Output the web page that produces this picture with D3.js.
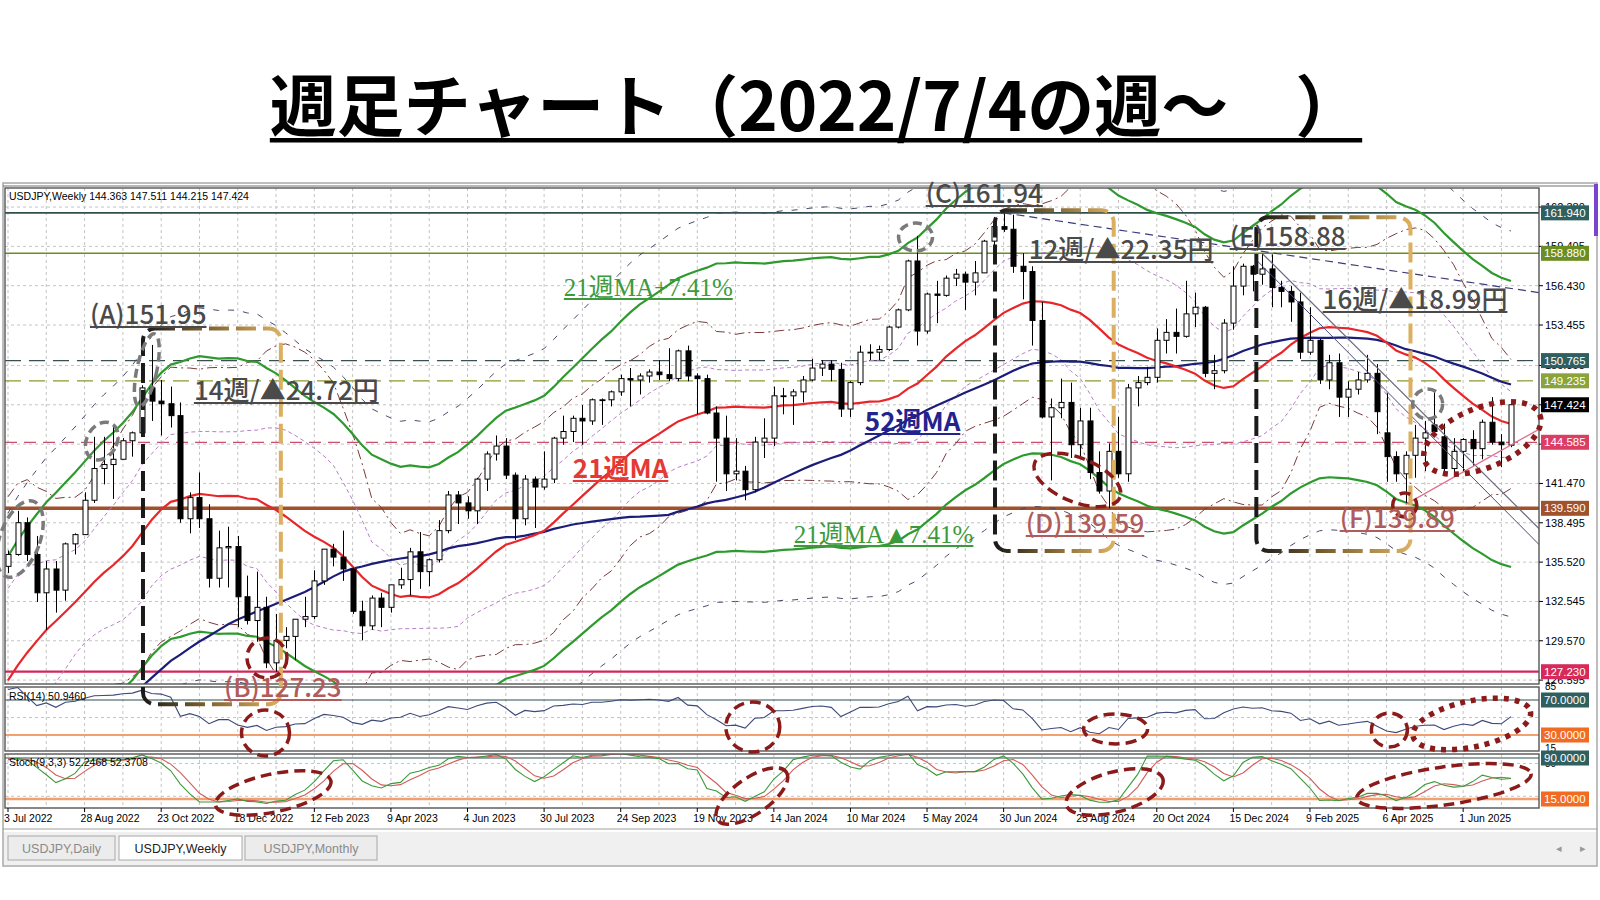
<!DOCTYPE html>
<html><head><meta charset="utf-8">
<script src="https://cdn.jsdelivr.net/npm/d3@7"></script>
<style>html,body{margin:0;padding:0;background:#fff;}svg{display:block;}</style>
</head><body>
<svg id="c" width="1600" height="900"></svg>
<script>
// ---------------- DATA ----------------
// weekly closes of the 52 weeks before the chart (Jul 2021 - Jun 2022), used by the indicators
const preClose=[110.1,110.1,110.5,109.7,110.2,109.6,109.8,109.8,109.7,109.9,109.9,110.7,111.0,112.2,114.2,113.5,114.0,113.4,114.1,114.0,113.4,112.8,113.4,113.7,114.4,115.1,115.6,114.2,113.7,115.2,115.2,115.4,115.0,115.6,114.8,117.3,119.2,122.0,122.5,124.3,126.4,128.5,130.8,130.6,129.2,127.9,127.1,130.9,134.4,135.0,135.2,135.2];
// highs / lows of the last 17 of those weeks (Mar - Jun 2022)
const preHigh=[117.4,119.4,122.4,125.1,124.5,126.7,129.4,131.3,131.3,131.3,129.8,128.0,130.9,134.6,135.6,136.7,137.0];
const preLow=[114.8,117.0,118.7,121.0,122.1,124.0,125.9,126.9,128.6,127.5,126.4,126.4,127.2,130.6,131.5,134.3,134.8];

const open=[135.2,136.1,138.5,136.1,133.2,135.0,133.4,136.9,137.6,140.2,142.6,142.9,143.3,144.7,145.3,148.7,147.7,147.5,146.6,138.8,140.4,138.8,134.3,136.6,136.7,132.9,131.1,132.1,127.9,129.6,
129.9,131.2,131.4,134.1,136.5,135.9,135.0,131.8,130.7,132.8,132.1,133.8,134.2,136.3,134.8,135.7,137.9,140.6,140.0,139.4,
141.8,143.7,144.3,142.1,138.8,141.8,141.2,141.8,144.9,145.4,146.4,146.2,147.8,147.8,148.4,149.4,149.3,149.6,149.9,149.7,
149.4,151.5,149.6,149.4,146.8,144.9,142.2,142.4,141.0,144.6,144.9,148.1,148.1,148.4,149.3,150.2,150.5,150.1,147.1,149.1,
151.4,151.4,151.6,153.3,154.6,158.3,153.0,155.8,155.7,157.0,157.3,156.7,157.4,159.8,160.9,160.7,157.9,157.5,153.8,146.5,
147.2,147.6,144.4,146.2,142.3,140.9,143.9,142.2,148.7,149.1,149.5,152.3,152.9,152.6,154.3,154.8,149.8,150.0,153.6,156.4,
157.9,157.3,157.7,156.3,156.0,155.2,151.4,152.3,149.3,150.6,148.0,148.6,149.3,149.8,145.3,143.5,142.2,143.6,144.9,145.9,
145.0,142.6,143.9,144.8,144.1,146.1,144.6,144.363];
const high=[136.4,139.4,138.9,137.5,135.6,135.6,137.0,137.7,140.8,145.0,145.0,145.9,144.9,145.4,148.9,151.95,149.3,148.8,147.6,140.8,142.3,139.9,137.9,138.2,137.5,134.5,134.8,132.9,131.6,130.6,
131.2,132.9,134.9,136.5,136.9,137.9,135.1,132.6,133.0,133.2,133.8,135.1,136.6,137.8,135.8,138.7,140.9,140.9,140.5,141.9,
143.9,145.1,144.9,142.3,142.1,142.0,143.9,145.0,146.6,146.6,147.4,147.9,147.9,148.5,149.7,150.2,149.8,150.1,150.8,151.7,
151.6,151.9,149.8,149.7,147.3,146.6,144.9,142.8,145.0,146.4,148.8,148.7,148.6,149.6,150.9,150.8,150.8,150.6,149.2,151.9,
152.0,151.9,153.4,154.7,158.4,160.2,155.9,156.8,157.2,157.7,157.5,158.3,159.9,160.9,161.94,161.8,158.9,157.9,155.2,147.9,
149.4,149.1,147.2,147.2,143.9,144.5,146.5,149.0,149.6,150.3,153.2,153.9,154.7,156.8,155.9,154.9,151.2,153.9,157.9,158.1,
158.0,158.88,158.8,156.8,156.4,155.9,154.8,152.4,151.2,151.3,149.2,149.9,151.2,150.5,148.3,143.9,143.9,145.9,146.2,148.6,
146.0,144.9,144.9,145.5,146.3,148.0,145.2,147.511];
const low=[134.7,136.0,135.6,132.5,130.4,131.7,132.6,136.1,137.6,140.0,141.4,140.3,143.3,143.5,145.3,146.2,145.1,145.7,138.5,137.7,138.1,133.6,133.6,133.6,130.6,130.8,129.5,127.5,127.23,129.0,
128.1,130.6,131.2,133.8,135.2,134.1,131.6,129.6,130.4,130.6,131.7,133.5,133.0,133.5,133.7,135.5,137.7,138.4,138.8,138.4,
140.9,143.2,141.8,137.2,138.3,138.1,141.0,141.5,144.4,144.6,144.4,145.9,145.9,147.3,148.1,147.3,148.2,149.1,149.3,149.2,
149.2,149.2,146.7,146.7,141.6,140.9,141.7,140.2,140.8,143.4,144.3,146.7,145.9,147.6,149.2,149.6,149.2,146.5,146.5,148.9,
150.8,150.8,151.5,153.2,154.5,151.9,152.8,153.6,155.6,156.4,154.6,155.7,157.4,159.2,160.5,157.4,155.4,151.9,146.4,141.7,
146.4,143.4,143.4,141.8,140.7,139.59,141.9,141.6,147.3,148.9,149.1,151.3,151.3,152.5,153.3,149.5,148.6,149.8,153.1,155.7,
156.0,156.5,154.8,154.8,153.7,150.9,151.2,149.0,148.6,146.5,146.5,148.2,149.1,145.2,141.6,141.6,139.89,141.9,142.4,145.0,
142.4,142.1,142.4,142.8,143.3,144.4,142.7,144.215];
const close=[136.1,138.5,136.1,133.2,135.0,133.4,136.9,137.6,140.2,142.6,142.9,143.3,144.7,145.3,148.7,147.7,147.5,146.6,138.8,140.4,138.8,134.3,136.6,136.7,132.9,131.1,132.1,127.9,129.6,129.9,
131.2,131.4,134.1,136.5,135.9,135.0,131.8,130.7,132.8,132.1,133.8,134.2,136.3,134.8,135.7,137.9,140.6,140.0,139.4,141.8,
143.7,144.3,142.1,138.8,141.8,141.2,141.8,144.9,145.4,146.4,146.2,147.8,147.8,148.4,149.4,149.3,149.6,149.9,149.7,149.4,
151.5,149.6,149.4,146.8,144.9,142.2,142.4,141.0,144.6,144.9,148.1,148.1,148.4,149.3,150.2,150.5,150.1,147.1,149.1,151.4,
151.4,151.6,153.3,154.6,158.3,153.0,155.8,155.7,157.0,157.3,156.7,157.4,159.8,160.9,160.7,157.9,157.5,153.8,146.5,147.2,
147.6,144.4,146.2,142.3,140.9,143.9,142.2,148.7,149.1,149.5,152.3,152.9,152.6,154.3,154.8,149.8,150.0,153.6,156.4,157.9,
157.3,157.7,156.3,156.0,155.2,151.4,152.3,149.3,150.6,148.0,148.6,149.3,149.8,146.9,143.5,142.2,143.6,144.9,145.3,145.4,
142.6,143.9,144.8,144.1,146.1,144.6,144.4,147.424];

const dateLabels=["3 Jul 2022","28 Aug 2022","23 Oct 2022","18 Dec 2022","12 Feb 2023","9 Apr 2023","4 Jun 2023","30 Jul 2023","24 Sep 2023","19 Nov 2023","14 Jan 2024","10 Mar 2024","5 May 2024","30 Jun 2024","25 Aug 2024","20 Oct 2024","15 Dec 2024","9 Feb 2025","6 Apr 2025","1 Jun 2025"];
const dateLabelBars=[0,8,16,24,32,40,48,56,64,72,80,88,96,104,112,120,128,136,144,152];
const priceTicks=[126.595,129.570,132.545,135.520,138.495,141.470,144.445,147.420,150.395,153.455,156.430,159.405,162.380];
const levelValues=[161.94,158.88,150.765,149.235,144.585,139.59,127.23];
const priceTagValues=[161.94,158.88,150.765,149.235,147.424,144.585,139.59,127.23];
const envPct=7.41;
const outerEnvPct=10;

// annotations (anchor in bar index / price)
const annoText=["(A)151.95","14週/▲24.72円","(B)127.23","21週MA+7.41%","21週MA","52週MA","21週MA▲7.41%","(C)161.94","12週/▲22.35円","(D)139.59","(E)158.88","16週/▲18.99円","(F)139.89"];
const annoBar=[8.56,19.42,22.56,58.06,59.0,89.5,82.08,95.86,106.62,106.31,127.61,137.32,139.1];
const annoPrice=[153.53,147.78,125.31,155.65,141.88,145.44,136.97,162.69,158.45,137.72,159.43,154.67,138.1];
const boxBar0=[14.1,103.1,130.4], boxBar1=[28.5,115.5,146.5], boxTop=[153.2,162.14,161.6], boxBottom=[124.77,136.36,136.36];
const grayBar=[14.5,9.8,1.25,94.8,148.3], grayPrice=[150.05,144.68,137.27,160.11,147.48];
const redBar=[27.05,111.7,145.9], redPrice=[128.27,141.73,139.84];
const dotBar=[154.0], dotPrice=[144.91];
const rsiMarkBar=[26.9,77.8,115.7,144.3], rsiMarkVal=[32.3,39.1,36.9,35.7];
const rsiDotBar=[152.9], rsiDotVal=[42.6];
const stMarkBar=[27.7,77.7,115.6,150.0], stMarkVal=[26.0,20.5,27.8,38.8];
const trendFromBar=[104,131,130.5,146], trendFromPrice=[161.94,158.88,158.3,139.89];
const trendToBar=[160,160,160,160], trendToPrice=[155.9,138.0,136.8,145.6];

// ---------------- LAYOUT ----------------
const svg=d3.select('#c');
const L=5,R=1539, mainTop=188, mainBot=684, rsiTop=687, rsiBot=751, stTop=754, stBot=808, axisBot=829;
const N=close.length;
const x=d3.scaleLinear().domain([0,N-1]).range([8,1511]);
const y=d3.scaleLinear().domain([126.595,156.43]).range([680.1,285.7]);
const yR=d3.scaleLinear().domain([30,70]).range([735,700]);
const yS=d3.scaleLinear().domain([15,90]).range([799,758]);
const sansJP='"Noto Sans CJK JP","Noto Sans",sans-serif';
const mt='"Liberation Sans",Arial,sans-serif';

// ---------------- INDICATORS (computed from the data) ----------------
const P=preClose.length, allC=preClose.concat(close);
const ma21=[],sd21=[],ma52=[];
for(let i=0;i<N;i++){
  let w=allC.slice(P+i-20,P+i+1); const m=d3.mean(w); ma21.push(m);
  sd21.push(Math.sqrt(d3.mean(w,v=>(v-m)*(v-m))));
  ma52.push(d3.mean(allC.slice(P+i-51,P+i+1)));
}
const rsi=[];
{ let ag=0,al=0; const n=14; const rAll=[];
  for(let k=1;k<=n;k++){const d=allC[k]-allC[k-1]; if(d>0)ag+=d; else al-=d;}
  ag/=n; al/=n; rAll[n]=100-100/(1+ag/al);
  for(let k=n+1;k<allC.length;k++){const d=allC[k]-allC[k-1]; ag=(ag*(n-1)+Math.max(d,0))/n; al=(al*(n-1)+Math.max(-d,0))/n; rAll[k]=al===0?100:100-100/(1+ag/al);}
  for(let i=0;i<N;i++) rsi.push(rAll[P+i]);
}
const stK=[],stD=[];
{ const Q=preHigh.length, hA=preHigh.concat(high), lA=preLow.concat(low), cA=preClose.slice(-Q).concat(close);
  const num=[],den=[],sk=[];
  for(let j=8;j<hA.length;j++){const hh=d3.max(hA.slice(j-8,j+1)), ll=d3.min(lA.slice(j-8,j+1)); num[j]=cA[j]-ll; den[j]=hh-ll;}
  for(let j=10;j<hA.length;j++){sk[j]=100*(num[j]+num[j-1]+num[j-2])/(den[j]+den[j-1]+den[j-2]);}
  for(let i=0;i<N;i++){const j=Q+i; stK.push(sk[j]); stD.push((sk[j]+sk[j-1]+sk[j-2])/3);}
}

// ---------------- FRAME ----------------
svg.append('rect').attr('x',0).attr('y',0).attr('width',1600).attr('height',900).attr('fill','#fff');
const title=svg.append('text').attr('x',816).attr('y',131).attr('text-anchor','middle')
  .attr('font-family',sansJP).attr('font-weight',700).attr('font-size',67).attr('fill','#000')
  .text('週足チャート（2022/7/4の週～　）');
const tb=title.node().getBBox();
svg.append('rect').attr('x',tb.x).attr('y',138).attr('width',tb.width).attr('height',4.5).attr('fill','#000');

svg.append('rect').attr('x',3).attr('y',183).attr('width',1594).attr('height',683).attr('fill','#fff').attr('stroke','#a8a8a8').attr('stroke-width',1.5);
svg.append('line').attr('x1',3).attr('x2',1597).attr('y1',186).attr('y2',186).attr('stroke','#707070').attr('stroke-width',1);
svg.append('rect').attr('x',1594).attr('y',184).attr('width',4).attr('height',52).attr('fill','#7a44cc');

const defs=svg.append('defs');
[['cm',mainTop,mainBot],['cr',rsiTop,rsiBot],['cs',stTop,stBot]].forEach(([id,t,b])=>{
  defs.append('clipPath').attr('id',id).append('rect').attr('x',L).attr('y',t).attr('width',R-L).attr('height',b-t);
});
const g=defs.append('linearGradient').attr('id','gbox').attr('x1',0).attr('x2',1).attr('y1',0).attr('y2',0);
g.append('stop').attr('offset','0').attr('stop-color','#1a1a1a');
g.append('stop').attr('offset','0.45').attr('stop-color','#7a6030');
g.append('stop').attr('offset','1').attr('stop-color','#dcb060');

// grid
const gm=svg.append('g').attr('clip-path','url(#cm)');
const gr=svg.append('g').attr('clip-path','url(#cr)');
const gs=svg.append('g').attr('clip-path','url(#cs)');
const gridBars=d3.range(0,N,4);
[[gm,mainTop,mainBot],[gr,rsiTop,rsiBot],[gs,stTop,stBot]].forEach(([gg,t,b])=>{
  gg.selectAll(null).data(gridBars).join('line').attr('x1',d=>x(d)).attr('x2',d=>x(d)).attr('y1',t).attr('y2',b)
    .attr('stroke','#c4c4c4').attr('stroke-width',1).attr('stroke-dasharray','3,3');
});
gm.selectAll(null).data(priceTicks).join('line').attr('x1',L).attr('x2',R).attr('y1',d=>y(d)).attr('y2',d=>y(d))
  .attr('stroke','#c4c4c4').attr('stroke-width',1).attr('stroke-dasharray','3,3');
gr.append('line').attr('x1',L).attr('x2',R).attr('y1',yR(50)).attr('y2',yR(50)).attr('stroke','#c4c4c4').attr('stroke-dasharray','3,3');
[80,20].forEach(v=>gs.append('line').attr('x1',L).attr('x2',R).attr('y1',yS(v)).attr('y2',yS(v)).attr('stroke','#c4c4c4').attr('stroke-dasharray','3,3'));

// horizontal levels
const lvStyle={161.94:['#2f4f4f',1.6,null],158.88:['#6b8e23',1.6,null],150.765:['#3a5050',1.2,'16,8'],149.235:['#8a9a30',1.2,'16,8'],144.585:['#c8506e',1.3,'12,7'],139.59:['#a0522d',3.5,null],127.23:['#d02858',2.2,null]};
levelValues.forEach(v=>{const s=lvStyle[v];
  gm.append('line').attr('x1',L).attr('x2',R).attr('y1',y(v)).attr('y2',y(v)).attr('stroke',s[0]).attr('stroke-width',s[1]).attr('stroke-dasharray',s[2]);});

// envelopes & bands
const lineFn=(arr,mult)=>d3.line().x((d,i)=>x(i)).y((d,i)=>y(arr[i]*mult))(arr);
const bandLine=(k)=>d3.line().x((d,i)=>x(i)).y((d,i)=>y(ma21[i]+k*sd21[i]))(ma21);
gm.append('path').attr('d',lineFn(ma21,1+outerEnvPct/100)).attr('fill','none').attr('stroke','#4a4a6a').attr('stroke-width',1).attr('stroke-dasharray','6,9');
gm.append('path').attr('d',lineFn(ma21,1-outerEnvPct/100)).attr('fill','none').attr('stroke','#4a4a6a').attr('stroke-width',1).attr('stroke-dasharray','6,9');
[2,-2].forEach(k=>gm.append('path').attr('d',bandLine(k)).attr('fill','none').attr('stroke','#7a3a3a').attr('stroke-width',1).attr('stroke-dasharray','10,4,2,4'));
[1,-1].forEach(k=>gm.append('path').attr('d',bandLine(k)).attr('fill','none').attr('stroke','#b77fc7').attr('stroke-width',1).attr('stroke-dasharray','4,3'));
gm.append('path').attr('d',lineFn(ma21,1+envPct/100)).attr('fill','none').attr('stroke','#2e9a2e').attr('stroke-width',2.2);
gm.append('path').attr('d',lineFn(ma21,1-envPct/100)).attr('fill','none').attr('stroke','#2e9a2e').attr('stroke-width',2.2);
gm.append('path').attr('d',lineFn(ma52,1)).attr('fill','none').attr('stroke','#1c1c7a').attr('stroke-width',2.2);
gm.append('path').attr('d',lineFn(ma21,1)).attr('fill','none').attr('stroke','#e8262a').attr('stroke-width',2.2);

// candles
const cg=gm.append('g');
d3.range(N).forEach(i=>{
  const xi=Math.round(x(i))+0.5;
  cg.append('line').attr('x1',xi).attr('x2',xi).attr('y1',y(high[i])).attr('y2',y(low[i])).attr('stroke','#000').attr('stroke-width',1);
  const top=y(Math.max(open[i],close[i])), bot=y(Math.min(open[i],close[i]));
  cg.append('rect').attr('x',xi-2.5).attr('y',top).attr('width',5).attr('height',Math.max(0.8,bot-top))
    .attr('fill',close[i]>=open[i]?'#fff':'#000').attr('stroke','#000').attr('stroke-width',1);
});

// trendlines
const tg=svg.append('g').attr('clip-path','url(#cm)');
const tStyle=[['#3c3c78',1.2,'8,5'],['#6a6a80',1.2,null],['#4a4a7a',1,null],['#e0708e',1.3,null]];
trendFromBar.forEach((b,i)=>tg.append('line').attr('x1',x(b)).attr('y1',y(trendFromPrice[i])).attr('x2',x(trendToBar[i])).attr('y2',y(trendToPrice[i]))
  .attr('stroke',tStyle[i][0]).attr('stroke-width',tStyle[i][1]).attr('stroke-dasharray',tStyle[i][2]));

// RSI
gr.append('line').attr('x1',L).attr('x2',R).attr('y1',yR(70)).attr('y2',yR(70)).attr('stroke','#2f4f4f').attr('stroke-width',1.2);
gr.append('line').attr('x1',L).attr('x2',R).attr('y1',yR(30)).attr('y2',yR(30)).attr('stroke','#f2a070').attr('stroke-width',2);
gr.append('path').attr('d',d3.line().x((d,i)=>x(i)).y(d=>yR(d))(rsi)).attr('fill','none').attr('stroke','#3d4a7a').attr('stroke-width',1.1);
// Stoch
gs.append('line').attr('x1',L).attr('x2',R).attr('y1',yS(90)).attr('y2',yS(90)).attr('stroke','#2f4f4f').attr('stroke-width',1.2);
gs.append('line').attr('x1',L).attr('x2',R).attr('y1',yS(15)).attr('y2',yS(15)).attr('stroke','#f2a070').attr('stroke-width',2.5);
gs.append('path').attr('d',d3.line().x((d,i)=>x(i)).y(d=>yS(d))(stD)).attr('fill','none').attr('stroke','#d45a5a').attr('stroke-width',1.1);
gs.append('path').attr('d',d3.line().x((d,i)=>x(i)).y(d=>yS(d))(stK)).attr('fill','none').attr('stroke','#3a9a3a').attr('stroke-width',1.1);

// panel borders
[[mainTop,mainBot],[rsiTop,rsiBot],[stTop,stBot]].forEach(([t,b])=>{
  svg.append('rect').attr('x',L).attr('y',t).attr('width',R-L).attr('height',b-t).attr('fill','none').attr('stroke','#555').attr('stroke-width',1.4);
});
svg.append('line').attr('x1',3).attr('x2',1597).attr('y1',axisBot).attr('y2',axisBot).attr('stroke','#a0a0a0');

// panel titles
svg.append('text').attr('x',9).attr('y',200).attr('font-family',mt).attr('font-size',10.5).attr('fill','#000').text('USDJPY,Weekly  144.363 147.511 144.215 147.424');
svg.append('text').attr('x',9).attr('y',700).attr('font-family',mt).attr('font-size',10.5).attr('fill','#000').text('RSI(14) 50.9460');
svg.append('text').attr('x',9).attr('y',766).attr('font-family',mt).attr('font-size',10.5).attr('fill','#000').text('Stoch(9,3,3) 52.2468 52.3708');

// price axis
const ax=svg.append('g');
priceTicks.forEach(v=>{
  ax.append('line').attr('x1',R).attr('x2',R+4).attr('y1',y(v)).attr('y2',y(v)).attr('stroke','#000');
  const hidden=priceTagValues.some(t=>Math.abs(y(t)-y(v))<3);
  if(!hidden) ax.append('text').attr('x',R+6).attr('y',y(v)).attr('dy','0.36em').attr('font-family',mt).attr('font-size',11).attr('fill','#000').text(d3.format('.3f')(v));
});
[[85,yR],[15,yR],[80,yS]].forEach(([v,s])=>ax.append('text').attr('x',R+6).attr('y',s(v)).attr('dy','0.36em').attr('font-family',mt).attr('font-size',10).attr('fill','#000').text(v));
const tagColor={161.94:'#2f5f5f',158.88:'#6b8e23',150.765:'#2f5f5f',149.235:'#8aa43a',147.424:'#000',144.585:'#dc3d62',139.59:'#a0522d',127.23:'#d82a5a'};
function tag(yy,col,txt){
  ax.append('rect').attr('x',R+2).attr('y',yy-7.5).attr('width',48).attr('height',15).attr('fill',col);
  ax.append('text').attr('x',R+5).attr('y',yy).attr('dy','0.36em').attr('font-family',mt).attr('font-size',11.5).attr('fill','#fff').text(txt);
}
priceTagValues.forEach(v=>tag(y(v),tagColor[v],d3.format('.3f')(v)));
tag(yR(70),'#2f5f5f','70.0000'); tag(yR(30),'#f26b22','30.0000');
tag(yS(90),'#2f5f5f','90.0000'); tag(yS(15),'#f26b22','15.0000');

// time axis
dateLabelBars.forEach((b,i)=>{
  svg.append('line').attr('x1',x(b)).attr('x2',x(b)).attr('y1',stBot).attr('y2',stBot+4).attr('stroke','#000');
  svg.append('text').attr('x',x(b)-4).attr('y',822).attr('font-family',mt).attr('font-size',10.5).attr('fill','#000').text(dateLabels[i]);
});

// tabs
svg.append('rect').attr('x',4).attr('y',832).attr('width',1592).attr('height',33).attr('fill','#f0f0f0');
[['USDJPY,Daily',8,115,false],['USDJPY,Weekly',119,242,true],['USDJPY,Monthly',245,377,false]].forEach(([t,a,b,act])=>{
  svg.append('rect').attr('x',a).attr('y',836).attr('width',b-a).attr('height',24).attr('fill',act?'#fff':'#ececec').attr('stroke','#a8a8a8');
  svg.append('text').attr('x',(a+b)/2).attr('y',853).attr('text-anchor','middle').attr('font-family',mt).attr('font-size',12.5).attr('fill',act?'#222':'#8a8a8a').text(t);
});
svg.append('text').attr('x',1556).attr('y',852).attr('font-family',mt).attr('font-size',11).attr('fill','#999').text('◂');
svg.append('text').attr('x',1580).attr('y',852).attr('font-family',mt).attr('font-size',11).attr('fill','#999').text('▸');

// ---------------- ANNOTATIONS ----------------
const an=svg.append('g');
boxBar0.forEach((b,i)=>{
  const x0=x(b), x1=x(boxBar1[i]), y0=y(boxTop[i]), y1=y(boxBottom[i]);
  an.append('rect').attr('x',x0).attr('y',y0).attr('width',x1-x0).attr('height',y1-y0).attr('rx',12).attr('ry',12)
    .attr('fill','none').attr('stroke','url(#gbox)').attr('stroke-width',4).attr('stroke-dasharray','20,7');
});
function ell(cx,cy,rx,ry,rot,col,w,dash){
  an.append('ellipse').attr('cx',cx).attr('cy',cy).attr('rx',rx).attr('ry',ry).attr('transform',`rotate(${rot},${cx},${cy})`)
    .attr('fill','none').attr('stroke',col).attr('stroke-width',w).attr('stroke-dasharray',dash);
}
const graySz=[[10,37,12],[15,20,30],[20,40,20],[17,14,0],[15,15,0]];
grayBar.forEach((b,i)=>ell(x(b),y(grayPrice[i]),...graySz[i],'#7a7a7a',3.5,'9,5'));
const redSz=[[20,20,0],[46,22,22],[12,12,0]];
redBar.forEach((b,i)=>ell(x(b),y(redPrice[i]),...redSz[i],'#8b1a1a',3.5,'11,6'));
dotBar.forEach((b,i)=>ell(x(b),y(dotPrice[i]),62,30,-22,'#8b1a1a',5.5,'5,6'));
const rsiSz=[[24,23,0],[27,25,0],[32,15,0],[18,17,0]];
rsiMarkBar.forEach((b,i)=>ell(x(b),yR(rsiMarkVal[i]),...rsiSz[i],'#8b1a1a',3.5,'11,6'));
rsiDotBar.forEach((b,i)=>ell(x(b),yR(rsiDotVal[i]),60,23,-12,'#8b1a1a',5.5,'5,6'));
const stSz=[[59,19,-12],[42,18,-35],[50,20,-15],[88,19,-8]];
stMarkBar.forEach((b,i)=>ell(x(b),yS(stMarkVal[i]),...stSz[i],'#8b1a1a',3.5,'11,6'));

const styleOf=(t)=>{
  if(t.startsWith('(B)')||t.startsWith('(D)')||t.startsWith('(F)')) return {f:sansJP,w:500,s:26,c:'#b05c5c'};
  if(t==='21週MA') return {f:sansJP,w:700,s:26,c:'#e53935'};
  if(t==='52週MA') return {f:sansJP,w:700,s:26,c:'#23238e'};
  if(t.indexOf('%')>=0) return {f:'"Liberation Serif","DejaVu Serif",'+sansJP,w:400,s:25,c:'#3c9a3c'};
  return {f:sansJP,w:500,s:26,c:'#4a4a4a'};
};
annoText.forEach((t,i)=>{
  const st=styleOf(t); const tx=x(annoBar[i]), ty=y(annoPrice[i]);
  const el=an.append('text').attr('x',tx).attr('y',ty).attr('font-family',st.f).attr('font-weight',st.w).attr('font-size',st.s).attr('fill',st.c).text(t);
  const w=el.node().getComputedTextLength();
  an.append('line').attr('x1',tx).attr('x2',tx+w).attr('y1',ty+3).attr('y2',ty+3).attr('stroke',st.c).attr('stroke-width',2);
});
</script>
</body></html>
